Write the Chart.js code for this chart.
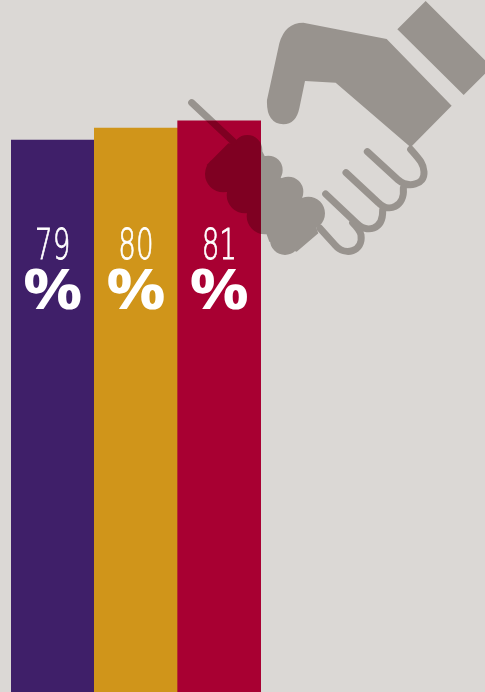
<!DOCTYPE html>
<html><head><meta charset="utf-8">
<style>html,body{margin:0;padding:0;background:#dbd8d5;overflow:hidden}canvas{display:block}</style>
<script src="https://cdn.jsdelivr.net/npm/chart.js@4"></script></head>
<body><canvas id="c" width="485" height="692"></canvas>
<script>
const categories = ["A", "B", "C"];
const barValues = [78.3, 80, 81];
const shownLabels = ["79", "80", "81"];
const barColors = ["#3f1f69", "#d0951a", "#a80032"];
const GREY = "#98938e", DARK = "#7f0022";

function Z(x, y) { return [170 + x / 3, y / 3]; }
function fills() {
  const p = new Path2D();
  const poly = pts => { pts.forEach((q, i) => { const [x, y] = Z(q[0], q[1]); i ? p.lineTo(x, y) : p.moveTo(x, y); }); p.closePath(); };
  const circ = (a, b, r) => { const [x, y] = Z(a, b); p.moveTo(x + r / 3, y); p.arc(x, y, r / 3, 0, 2 * Math.PI); p.closePath(); };
  poly([[767,3],[965,201],[881,285],[682,88]]);
  // arm
  const [ax, ay] = Z(650,117); p.moveTo(ax, ay);
  const L = (a, b) => { const [x, y] = Z(a, b); p.lineTo(x, y); };
  const Q = (a, b, c, d) => { const u = Z(a, b), v = Z(c, d); p.quadraticCurveTo(u[0], u[1], v[0], v[1]); };
  L(845,317); L(722,442); L(497,248); L(405,243); L(388,325);
  Q(378,373,340,373); Q(288,370,291,300); L(328,130); Q(345,68,400,68); L(650,117); p.closePath();
  // clasped hand: clockwise, same winding as the lumps
  poly([[270,440],[300,500],[350,550],[410,610],[445,700],[380,755],[298,725],[285,690],[240,640],[190,590],[150,540],[110,495],[175,430]]);
  circ(232,450,45); circ(160,522,55); circ(225,585,55); circ(285,648,55);
  circ(295,510,43); circ(355,575,45); circ(415,640,50); circ(345,720,45);
  return p;
}
function strokes() {
  const p = new Path2D();
  const M = (a, b) => { const [x, y] = Z(a, b); p.moveTo(x, y); };
  const L = (a, b) => { const [x, y] = Z(a, b); p.lineTo(x, y); };
  const C = (a, b, c, d, e, f) => { const u = Z(a, b), v = Z(c, d), w = Z(e, f); p.bezierCurveTo(u[0], u[1], v[0], v[1], w[0], w[1]); };
  M(65,308); L(190,425);
  M(592,455); L(685,540); C(715,565,765,555,762,515); C(760,490,750,480,722,448);
  M(528,518); L(625,608); C(655,640,705,620,700,565);
  M(467,582); L(560,670); C(590,700,640,690,638,630);
  M(450,685); L(495,735); C(525,770,580,755,573,705); C(570,690,560,680,548,668);
  return p;
}
const iconFill = fills(), iconStroke = strokes();
function drawIcon(ctx, color) {
  ctx.fillStyle = color; ctx.strokeStyle = color; ctx.lineWidth = 7; ctx.lineCap = "round";
  ctx.fill(iconFill, "nonzero"); ctx.stroke(iconStroke);
}
const art = {
  id: "art",
  beforeDatasetsDraw(chart) { drawIcon(chart.ctx, GREY); },
  afterDatasetsDraw(chart) {
    const ctx = chart.ctx, bars = chart.getDatasetMeta(0).data, b = bars[bars.length - 1];
    ctx.save();
    ctx.beginPath(); ctx.rect(b.x - b.width / 2, b.y, b.width, b.base - b.y); ctx.clip();
    drawIcon(ctx, DARK);
    ctx.restore();
    ctx.fillStyle = "#fff"; ctx.strokeStyle = "#fff"; ctx.textAlign = "center"; ctx.textBaseline = "alphabetic";
    bars.forEach((bar, i) => {
      ctx.save(); ctx.translate(bar.x, 259); ctx.scale(0.66, 1);
      ctx.font = "200 42px 'DejaVu Sans'"; ctx.lineWidth = 0.8;
      ctx.fillText(shownLabels[i], 0, 0); ctx.strokeText(shownLabels[i], 0, 0); ctx.restore();
      ctx.save(); ctx.translate(bar.x, 308.5); ctx.scale(1.2, 1);
      ctx.font = "700 55px 'Open Sans'"; ctx.fillText("%", 0, 0); ctx.restore();
    });
  }
};
new Chart(document.getElementById("c"), {
  type: "bar",
  data: { labels: categories, datasets: [{ data: barValues, backgroundColor: barColors, borderWidth: 0, barPercentage: 1, categoryPercentage: 1 }] },
  options: {
    responsive: false, animation: false,
    layout: { padding: { left: 11, right: 224, top: 0, bottom: 0 } },
    plugins: { legend: { display: false }, tooltip: { enabled: false } },
    scales: {
      x: { display: false },
      y: { display: false, min: 0, max: 98.156 }
    }
  },
  plugins: [art]
});
</script></body></html>
